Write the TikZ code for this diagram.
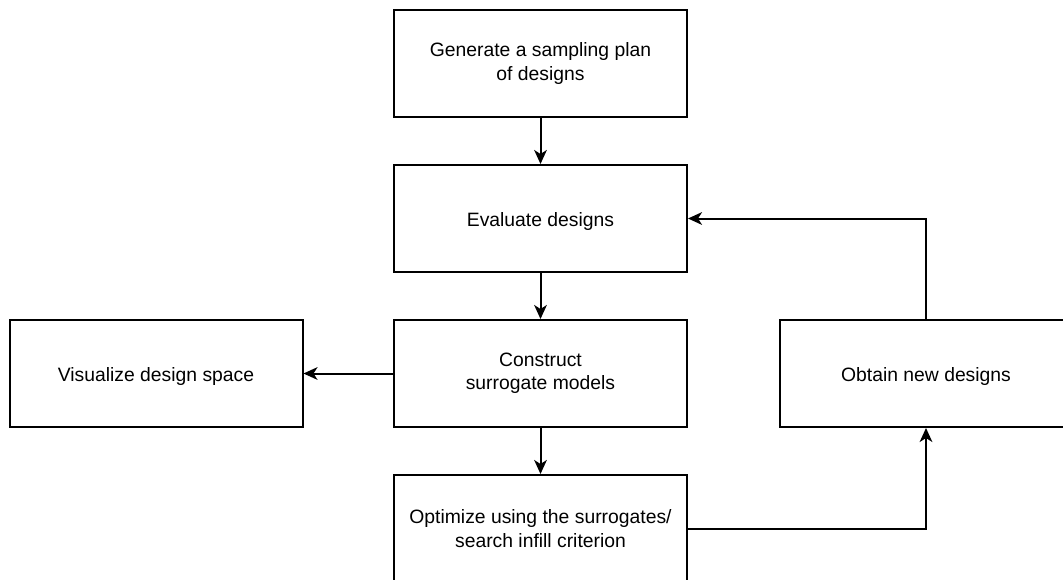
\documentclass[tikz,border=0pt]{standalone}
\usepackage{fontspec}
\setmainfont{Liberation Sans}
\usetikzlibrary{arrows.meta,positioning}

\begin{document}
\begin{tikzpicture}[x=0.75pt,y=-0.75pt,font=\fontsize{14.5}{17.4}\selectfont,
  stepbox/.style={draw,line width=1.5pt,minimum width=219.75pt,minimum height=80.25pt,align=center,inner sep=0pt,
    execute at begin node={\rule{0pt}{15pt}}},
  flow/.style={line width=1.5pt,-{Stealth[length=10.5pt,width=9.5pt,inset=3pt]}}]
\useasboundingbox (0,0) rectangle (1063,579);
\clip (0,0) rectangle (1063,579);
% main column
\node[stepbox] (plan) at (540.5,63.5) {Generate a sampling plan\\ of designs};
\node[stepbox] (eval) at (540.5,218.5) {Evaluate designs};
\node[stepbox] (surr) at (540.5,373.5) {Construct\\ surrogate models};
\node[stepbox] (opt) at (540.5,528.5) {Optimize using the surrogates/\\ search infill criterion};
% side boxes
\node[stepbox] (vis) at (156,373.5) {Visualize design space};
\node[stepbox] (new) at (926,373.5) {Obtain new designs};
\draw[flow] (plan) -- (eval);
\draw[flow] (eval) -- (surr);
\draw[flow] (surr) -- (opt);
\draw[flow] (surr) -- (vis);
\draw[flow] (opt.east) -| (new.south);
\draw[flow] (new.north) |- (eval.east);
\end{tikzpicture}
\end{document}
